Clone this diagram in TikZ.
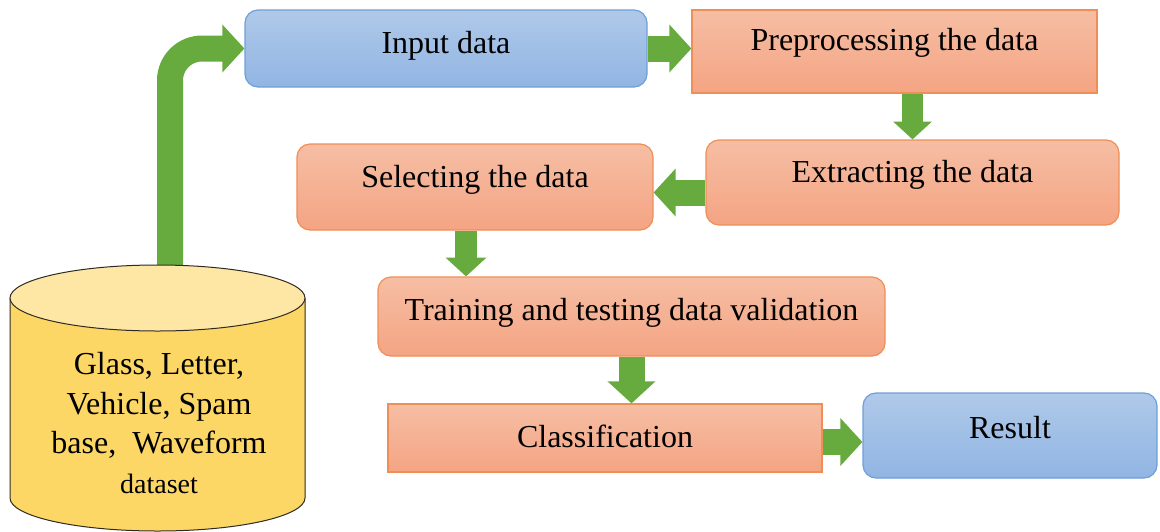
\documentclass[tikz,border=0pt]{standalone}
\usepackage{fontspec}
\setmainfont{Liberation Serif}
\usetikzlibrary{arrows.meta}

\definecolor{otop}{HTML}{F6BEA4}
\definecolor{obot}{HTML}{F4A483}
\definecolor{oedge}{HTML}{EF8E57}
\definecolor{btop}{HTML}{AFC9E9}
\definecolor{bbot}{HTML}{91B5E3}
\definecolor{bedge}{HTML}{6E9FD8}
\definecolor{flowgreen}{HTML}{67AB3F}
\definecolor{cyltop}{HTML}{FEE7A4}
\definecolor{cylbody}{HTML}{FDD766}
\definecolor{cyledge}{HTML}{2E2A22}

\begin{document}
\begin{tikzpicture}[x=1pt,y=-1pt,
  box/.style={draw, line width=1.2pt, inner sep=0pt,
    font=\fontsize{32}{37}\selectfont, text height=0pt, text depth=0pt},
  obox/.style={box, draw=oedge, top color=otop, bottom color=obot},
  bbox/.style={box, draw=bedge, top color=btop, bottom color=bbot},
  rbox/.style={rounded corners=13pt},
  flow/.style={draw=flowgreen, line width=#1,
    -{Triangle[length=0pt .85, width=0pt 1.8]}},
  flow/.default=26pt]
\useasboundingbox (0,0) rectangle (1160,531);

% process boxes
\node[bbox, rbox, minimum width=402pt, minimum height=77pt] (input) at (446,48.5)
  {\raisebox{-4.5pt}{Input data}};
\node[obox, minimum width=405pt, minimum height=83pt] (prep) at (894.5,51.5)
  {\raisebox{1.5pt}{Preprocessing the data}};
\node[obox, rbox, minimum width=413pt, minimum height=85pt] (extract) at (912.5,182.5)
  {\raisebox{0.5pt}{Extracting the data}};
\node[obox, rbox, minimum width=356pt, minimum height=86pt] (select) at (475,187)
  {\raisebox{0pt}{Selecting the data}};
\node[obox, rbox, minimum width=507pt, minimum height=79pt] (train) at (631.5,316.5)
  {\raisebox{-3.5pt}{Training and testing data validation}};
\node[obox, minimum width=434pt, minimum height=68pt] (class) at (605,438)
  {\raisebox{-9.5pt}{Classification}};
\node[bbox, rbox, minimum width=294pt, minimum height=85pt] (result) at (1010,435.5)
  {\raisebox{-2.5pt}{Result}};

% dataset cylinder
\coordinate (dbtop) at (170,265);
\draw[flow, rounded corners=32pt] (dbtop) |- (input.west);
\draw[cyledge, line width=1pt, fill=cylbody]
  (10,298) -- (10,498) arc[start angle=180, end angle=0, x radius=147.5, y radius=33]
  -- (305,298);
\draw[cyledge, line width=1pt, fill=cyltop] (157.5,298) ellipse[x radius=147.5, y radius=33];
\node[align=center, font=\fontsize{32}{39.5}\selectfont, inner sep=0pt] (db) at (159,423)
  {Glass, Letter,\\ Vehicle, Spam\\ base,\ \ Waveform\\
   {\fontsize{28}{36}\selectfont dataset}};

% flow between the steps
\draw[flow] (input.east) -- (input.east -| prep.west);
\draw[flow=21pt] (prep.south -| extract.north) -- (extract.north);
\draw[flow] ([yshift=-10pt]extract.west) -- ([yshift=-10pt]extract.west -| select.east);
\draw[flow=22pt] ([xshift=-9pt]select.south) -- ([xshift=-9pt]select.south |- train.north);
\draw[flow] (train.south) -- (train.south |- class.north);
\draw[flow] ([yshift=-4pt]class.east) -- ([yshift=-4pt]class.east -| result.west);
\end{tikzpicture}
\end{document}
